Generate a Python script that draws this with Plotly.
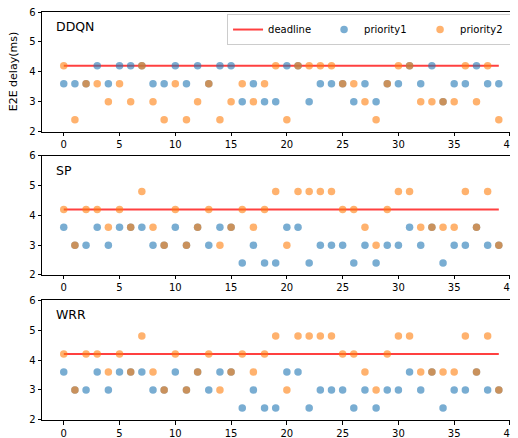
import plotly.graph_objects as go

x = list(range(40))
deadline = [4.2] * 40

ddqn_p1 = [3.6, 3.6, 3.6, 4.2, 3.6, 4.2, 4.2, 4.2, 3.6, 3.6,
           4.2, 3.6, 4.2, 3.6, 4.2, 4.2, 3.0, 3.6, 3.0, 3.0,
           4.2, 4.2, 3.0, 3.6, 3.6, 3.6, 3.0, 3.6, 3.0, 3.6,
           3.6, 4.2, 3.6, 4.2, 3.0, 3.6, 3.6, 4.2, 3.6, 3.6]
ddqn_p2 = [4.2, 2.4, 3.6, 3.6, 3.0, 3.6, 3.0, 4.2, 3.0, 2.4,
           3.6, 2.4, 3.0, 3.6, 2.4, 3.0, 3.6, 3.0, 3.6, 4.2,
           2.4, 4.2, 4.2, 4.2, 4.2, 3.6, 3.6, 3.0, 2.4, 3.6,
           4.2, 4.2, 3.0, 3.0, 3.0, 3.0, 4.2, 3.0, 4.2, 2.4]

sp_p1 = [3.6, 3.0, 3.0, 3.6, 3.0, 3.6, 3.6, 3.6, 3.0, 3.0,
         3.6, 3.0, 3.6, 3.0, 3.6, 3.6, 2.4, 3.0, 2.4, 2.4,
         3.6, 3.6, 2.4, 3.0, 3.0, 3.0, 2.4, 3.0, 2.4, 3.0,
         3.0, 3.6, 3.0, 3.6, 2.4, 3.0, 3.0, 3.6, 3.0, 3.0]
sp_p2 = [4.2, 3.0, 4.2, 4.2, 3.6, 4.2, 3.6, 4.8, 3.6, 3.0,
         4.2, 3.0, 3.6, 4.2, 3.0, 3.6, 4.2, 3.6, 4.2, 4.8,
         3.0, 4.8, 4.8, 4.8, 4.8, 4.2, 4.2, 3.6, 3.0, 4.2,
         4.8, 4.8, 3.6, 3.6, 3.6, 3.6, 4.8, 3.6, 4.8, 3.0]

wrr_p1 = [3.6, 3.0, 3.0, 3.6, 3.0, 3.6, 3.6, 3.6, 3.0, 3.0,
          3.6, 3.0, 3.6, 3.0, 3.6, 3.6, 2.4, 3.0, 2.4, 2.4,
          3.6, 3.6, 2.4, 3.0, 3.0, 3.0, 2.4, 3.0, 2.4, 3.0,
          3.0, 3.6, 3.0, 3.6, 2.4, 3.0, 3.0, 3.6, 3.0, 3.0]
wrr_p2 = [4.2, 3.0, 4.2, 4.2, 3.6, 4.2, 3.6, 4.8, 3.6, 3.0,
          4.2, 3.0, 3.6, 4.2, 3.0, 3.6, 4.2, 3.6, 4.2, 4.8,
          3.0, 4.8, 4.8, 4.8, 4.8, 4.2, 4.2, 3.6, 3.0, 4.2,
          4.8, 4.8, 3.6, 3.6, 3.6, 3.6, 4.8, 3.6, 4.8, 3.0]

panels = [("DDQN", ddqn_p1, ddqn_p2), ("SP", sp_p1, sp_p2), ("WRR", wrr_p1, wrr_p2)]
x_ticks = [0, 5, 10, 15, 20, 25, 30, 35, 40]
y_ticks = [2, 3, 4, 5, 6]

FONT = "DejaVu Sans"
BLUE = "#1f77b4"
ORANGE = "#ff7f0e"

fig = go.Figure()
domains = [(0.7066, 1.0), (0.3554, 0.6478), (0.0, 0.2941)]

for i, (name, p1, p2) in enumerate(panels):
    idx = "" if i == 0 else str(i + 1)
    xa, ya = "x" + idx, "y" + idx
    fig.add_trace(go.Scatter(x=x, y=deadline, mode="lines", name="deadline",
                             line=dict(color="rgba(255,0,0,0.75)", width=2),
                             xaxis=xa, yaxis=ya, showlegend=(i == 0)))
    fig.add_trace(go.Scatter(x=x, y=p1, mode="markers", name="priority1",
                             marker=dict(color=BLUE, size=7.5, opacity=0.6, line=dict(width=0)),
                             xaxis=xa, yaxis=ya, showlegend=(i == 0)))
    fig.add_trace(go.Scatter(x=x, y=p2, mode="markers", name="priority2",
                             marker=dict(color=ORANGE, size=7.5, opacity=0.6, line=dict(width=0)),
                             xaxis=xa, yaxis=ya, showlegend=(i == 0)))
    axis_common = dict(showgrid=False, zeroline=False, showline=True, linecolor="black",
                       linewidth=1, ticks="outside", ticklen=3.5, tickwidth=1,
                       tickcolor="black", automargin=False, ticklabeloverflow="allow",
                       tickfont=dict(family=FONT, size=10, color="black"))
    fig.layout["xaxis" + idx] = dict(axis_common, domain=[0, 1], range=[-1.95, 40.72],
                                     tickvals=x_ticks, anchor=ya, mirror=True)
    fig.layout["yaxis" + idx] = dict(axis_common, domain=list(domains[i]), range=[2, 6],
                                     tickvals=y_ticks, anchor=xa)
    fig.add_annotation(text=name, xref=xa + " domain", yref=ya + " domain",
                       x=0.026, y=1 - 14.5 / 120, xanchor="left", yanchor="middle",
                       showarrow=False, font=dict(family=FONT, size=12.5, color="black"))

fig.add_annotation(text="E2E delay(ms)", xref="paper", yref="y domain",
                   x=-0.060, y=0.5, textangle=-90, xanchor="center", yanchor="middle",
                   showarrow=False, font=dict(family=FONT, size=11, color="black"))

fig.update_layout(
    template="none",
    width=510, height=430,
    margin=dict(l=34, r=0, t=4, b=18, autoexpand=False),
    plot_bgcolor="white", paper_bgcolor="white",
    legend=dict(orientation="h", x=0.998, y=0.995, xanchor="right", yanchor="top",
                bordercolor="#cccccc", borderwidth=1, bgcolor="rgba(255,255,255,0.8)",
                font=dict(family=FONT, size=10, color="black"), entrywidth=51,
                itemwidth=30),
    showlegend=True,
)

fig.write_html("out.html")
